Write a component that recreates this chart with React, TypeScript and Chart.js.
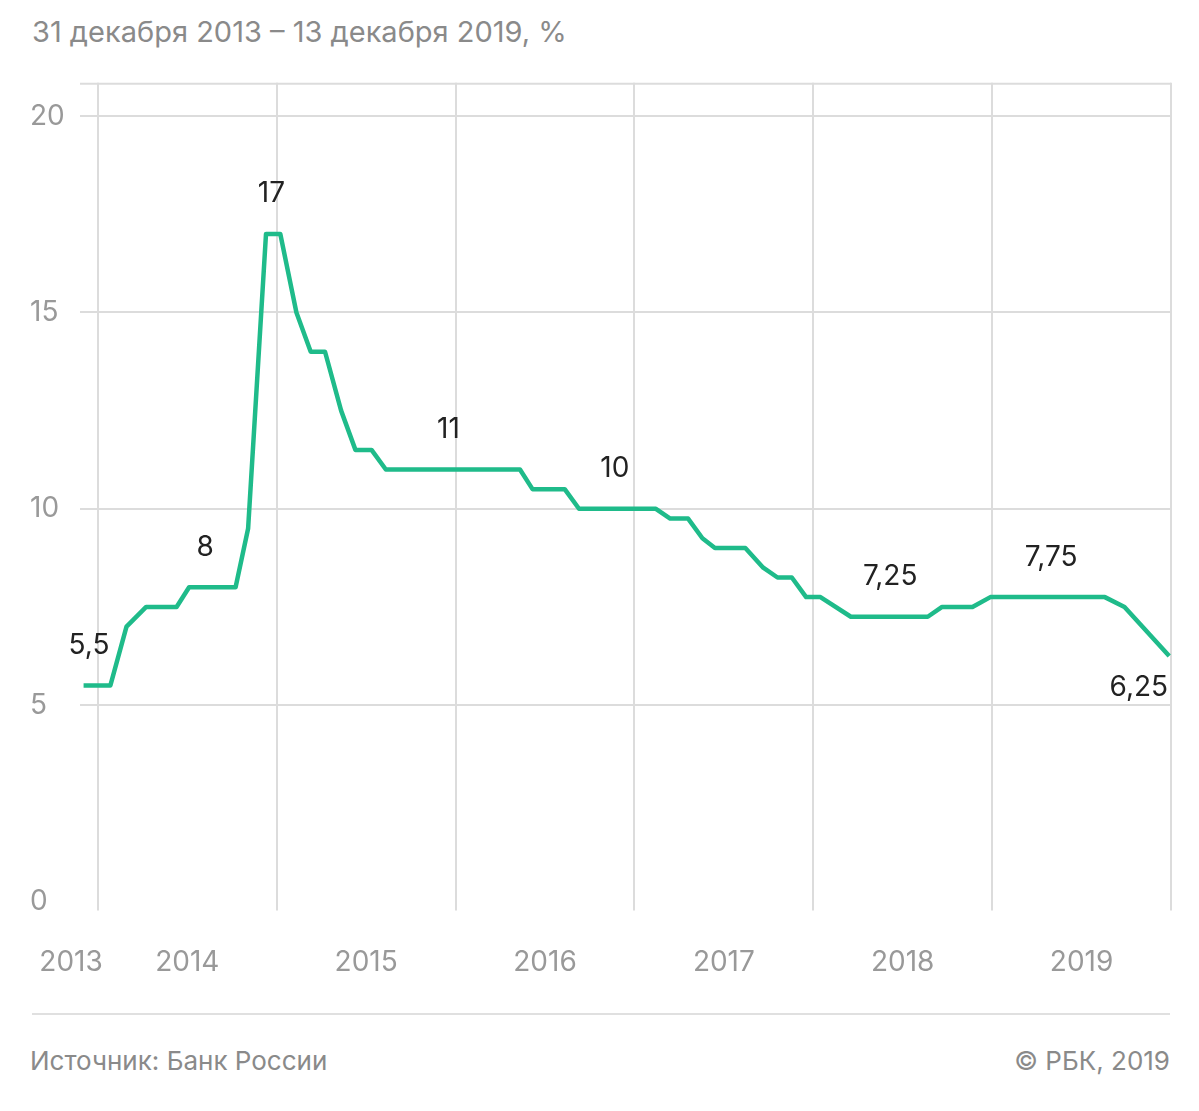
import React, { useEffect, useRef } from "react";
import { Chart, registerables } from "chart.js";
Chart.register(...registerables);

const dates = [2013.92, 2014.07, 2014.16, 2014.27, 2014.44, 2014.51, 2014.77, 2014.84, 2014.94, 2015.02, 2015.11, 2015.19, 2015.27, 2015.36, 2015.44, 2015.53, 2015.61, 2015.69, 2016.36, 2016.43, 2016.61, 2016.69, 2017.12, 2017.2, 2017.3, 2017.38, 2017.45, 2017.62, 2017.72, 2017.8, 2017.88, 2017.96, 2018.04, 2018.21, 2018.64, 2018.72, 2018.89, 2018.99, 2019.63, 2019.74, 2019.99];
const rates = [5.5, 5.5, 7, 7.5, 7.5, 8, 8, 9.5, 17, 17, 15, 14, 14, 12.5, 11.5, 11.5, 11, 11, 11, 10.5, 10.5, 10, 10, 9.75, 9.75, 9.25, 9, 9, 8.5, 8.25, 8.25, 7.75, 7.75, 7.25, 7.25, 7.5, 7.5, 7.75, 7.75, 7.5, 6.25];
const annX = [2013.95, 2014.6, 2014.97, 2015.96, 2016.89, 2018.43, 2019.33, 2019.82];
const annY = [5.5, 8, 17, 11, 10, 7.25, 7.75, 6.25];
const annText = ["5,5", "8", "17", "11", "10", "7,25", "7,75", "6,25"];
const annBelow = [false, false, false, false, false, false, false, true];
const gridYears = [2014, 2015, 2016, 2017, 2018, 2019, 2020];
const labelPos = [2013.85, 2014.5, 2015.5, 2016.5, 2017.5, 2018.5, 2019.5];
const labelText = ["2013", "2014", "2015", "2016", "2017", "2018", "2019"];
const yTicks = [0, 5, 10, 15, 20];

const FONT = "Inter, 'Noto Sans', sans-serif";

export default function App() {
  const ref = useRef<HTMLCanvasElement>(null);
  useEffect(() => {
    const annPlugin = {
      id: "ann",
      afterDatasetsDraw(chart: any) {
        const { ctx, scales } = chart;
        ctx.save();
        ctx.font = `28px ${FONT}`;
        ctx.fillStyle = "#222";
        ctx.textAlign = "center";
        ctx.textBaseline = "middle";
        annText.forEach((t, i) => {
          const x = scales.x.getPixelForValue(annX[i]);
          const y = scales.y.getPixelForValue(annY[i]) + (annBelow[i] ? 32 : -40);
          ctx.fillText(t, x, y);
        });
        ctx.restore();
      },
    };
    const chart = new Chart(ref.current!, {
      type: "line",
      data: {
        datasets: [{
          data: dates.map((d, i) => ({ x: d, y: rates[i] })),
          borderColor: "#1fbb8a",
          borderWidth: 4.5,
          pointRadius: 0,
          tension: 0,
          borderJoinStyle: "round",
        }],
      },
      options: {
        animation: false,
        responsive: false,
        layout: { padding: { left: 30, top: 3, right: 28 } },
        plugins: { legend: { display: false }, tooltip: { enabled: false } },
        scales: {
          x: {
            type: "linear", min: 2013.9, max: 2020,
            afterBuildTicks: (a: any) => { a.ticks = gridYears.map((v) => ({ value: v })); },
            ticks: { display: false },
            grid: { color: "#dcdcdc", lineWidth: 2, tickLength: 9, drawTicks: true },
            border: { display: false },
          },
          x2: {
            type: "linear", position: "bottom", min: 2013.9, max: 2020,
            afterBuildTicks: (a: any) => { a.ticks = labelPos.map((v) => ({ value: v })); },
            ticks: {
              autoSkip: false, maxRotation: 0, padding: 27, color: "#999",
              font: { size: 28, family: FONT },
              callback: (_v: any, i: number) => labelText[i],
            },
            grid: { display: false },
            border: { display: false },
          },
          y: {
            min: 0, max: 20.85,
            afterBuildTicks: (a: any) => { a.ticks = yTicks.map((v) => ({ value: v })); },
            afterFit: (a: any) => { a.width = 50; },
            ticks: { color: "#999", crossAlign: "far", padding: 0, font: { size: 28, family: FONT } },
            grid: { color: (c: any) => (c.tick && c.tick.value === 0 ? "rgba(0,0,0,0)" : "#dcdcdc"), lineWidth: 2, drawTicks: false },
            border: { display: false },
          },
        },
      },
      plugins: [annPlugin, {
        id: "topline",
        beforeDatasetsDraw(chart: any) {
          const { ctx, chartArea } = chart;
          ctx.save();
          ctx.strokeStyle = "#dcdcdc"; ctx.lineWidth = 2;
          ctx.beginPath(); ctx.moveTo(chartArea.left, chartArea.top + 1); ctx.lineTo(chartArea.right, chartArea.top + 1); ctx.stroke();
          ctx.restore();
        },
      }],
    } as any);
    return () => chart.destroy();
  }, []);
  return (
    <div style={{ position: "absolute", left: 0, top: 0, width: 1199, height: 1111, background: "#fff", fontFamily: FONT, overflow: "hidden" }}>
      <div style={{ position: "absolute", left: 32, top: 14, fontSize: 29, color: "#8a8a8a" }}>31 декабря 2013 – 13 декабря 2019, %</div>
      <canvas ref={ref} width={1199} height={940} style={{ position: "absolute", left: 0, top: 66 }} />
      <div style={{ position: "absolute", left: 32, width: 1138, top: 1013, borderTop: "2px solid #e0e0e0" }} />
      <div style={{ position: "absolute", left: 30, top: 1045, fontSize: 26, color: "#8a8a8a" }}>Источник: Банк России</div>
      <div style={{ position: "absolute", right: 29, top: 1045, fontSize: 26, color: "#8a8a8a" }}>© РБК, 2019</div>
    </div>
  );
}
